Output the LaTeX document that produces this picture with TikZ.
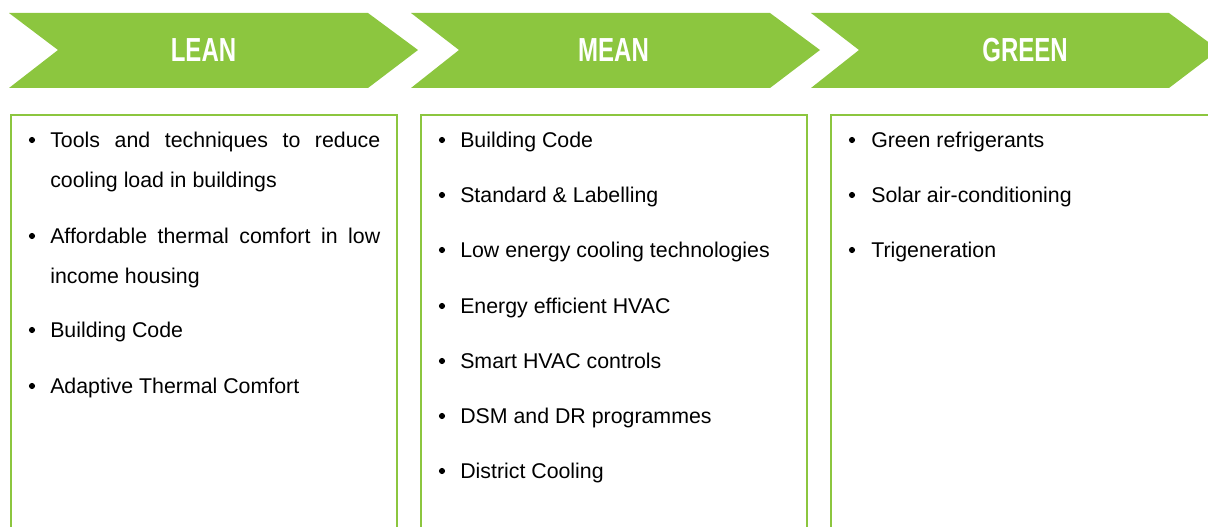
\documentclass[tikz,border=0pt]{standalone}
\usepackage{fontspec}
\setmainfont{Liberation Sans}
\newfontfamily\headfont{Liberation Sans}[FakeStretch=0.72]
\usepackage{xcolor}
\usepackage{tikz}
\usetikzlibrary{positioning}

\definecolor{leafgreen}{RGB}{140,198,63}

\tikzset{
    chevron/.style={fill=leafgreen, draw=none},
    panel/.style={draw=leafgreen, line width=1.9pt},
    heading/.style={text=white, inner sep=0pt,
        font=\headfont\bfseries\fontsize{25}{25}\selectfont},
    dot/.style={circle, fill=black, inner sep=0pt, minimum size=4.6pt},
    item/.style={anchor=base west, inner sep=0pt, text width=247.5pt,
        align=justify, font=\fontsize{16}{30}\selectfont},
}

\begin{document}
\begin{tikzpicture}[x=0.75pt, y=-0.75pt]
                \useasboundingbox (0,0) rectangle (1208,527);
                \clip (0,0) rectangle (1208,527);

                % headers
                \draw[chevron] (9,13) -- (368,13) -- (418,50) -- (368,88)
                    -- (9,88) -- (58,50) -- cycle;
                \draw[chevron] (411,13) -- (770,13) -- (820,50) -- (770,88)
                    -- (411,88) -- (459,50) -- cycle;
                \draw[chevron] (811,13) -- (1169,13) -- (1219,50) -- (1169,88)
                    -- (811,88) -- (859,50) -- cycle;

                \node[heading] (lean) at (203.5,50) {LEAN};
                \node[heading] (mean) at (613.5,50) {MEAN};
                \node[heading] (green) at (1025,50) {GREEN};

                % panels
                \draw[panel] (11,115) rectangle (397,560);
                \draw[panel] (421,115) rectangle (807,560);
                \draw[panel] (831,115) rectangle (1230,560);

                % lean
                \node[dot] (leandot1) at (32,140) {};
                \node[item] (lean1) at (50,148) {Tools and techniques to reduce cooling load in buildings};
                \node[dot] (leandot2) at (32,236) {};
                \node[item] (lean2) at (50,244) {Affordable thermal comfort in low income housing};
                \node[dot] (leandot3) at (32,330) {};
                \node[item] (lean3) at (50,338) {Building Code};
                \node[dot] (leandot4) at (32,386) {};
                \node[item] (lean4) at (50,394) {Adaptive Thermal Comfort};

                % mean
                \node[dot] (meandot1) at (442,140) {};
                \node[item] (mean1) at (460,148) {Building Code};
                \node[dot] (meandot2) at (442,195) {};
                \node[item] (mean2) at (460,203) {Standard \& Labelling};
                \node[dot] (meandot3) at (442,250) {};
                \node[item] (mean3) at (460,258) {Low energy cooling technologies};
                \node[dot] (meandot4) at (442,306) {};
                \node[item] (mean4) at (460,314) {Energy efficient HVAC};
                \node[dot] (meandot5) at (442,361) {};
                \node[item] (mean5) at (460,369) {Smart HVAC controls};
                \node[dot] (meandot6) at (442,416) {};
                \node[item] (mean6) at (460,424) {DSM and DR programmes};
                \node[dot] (meandot7) at (442,471) {};
                \node[item] (mean7) at (460,479) {District Cooling};

                % green
                \node[dot] (greendot1) at (852,140) {};
                \node[item] (green1) at (871,148) {Green refrigerants};
                \node[dot] (greendot2) at (852,195) {};
                \node[item] (green2) at (871,203) {Solar air-conditioning};
                \node[dot] (greendot3) at (852,250) {};
                \node[item] (green3) at (871,258) {Trigeneration};

            \end{tikzpicture}
\end{document}
